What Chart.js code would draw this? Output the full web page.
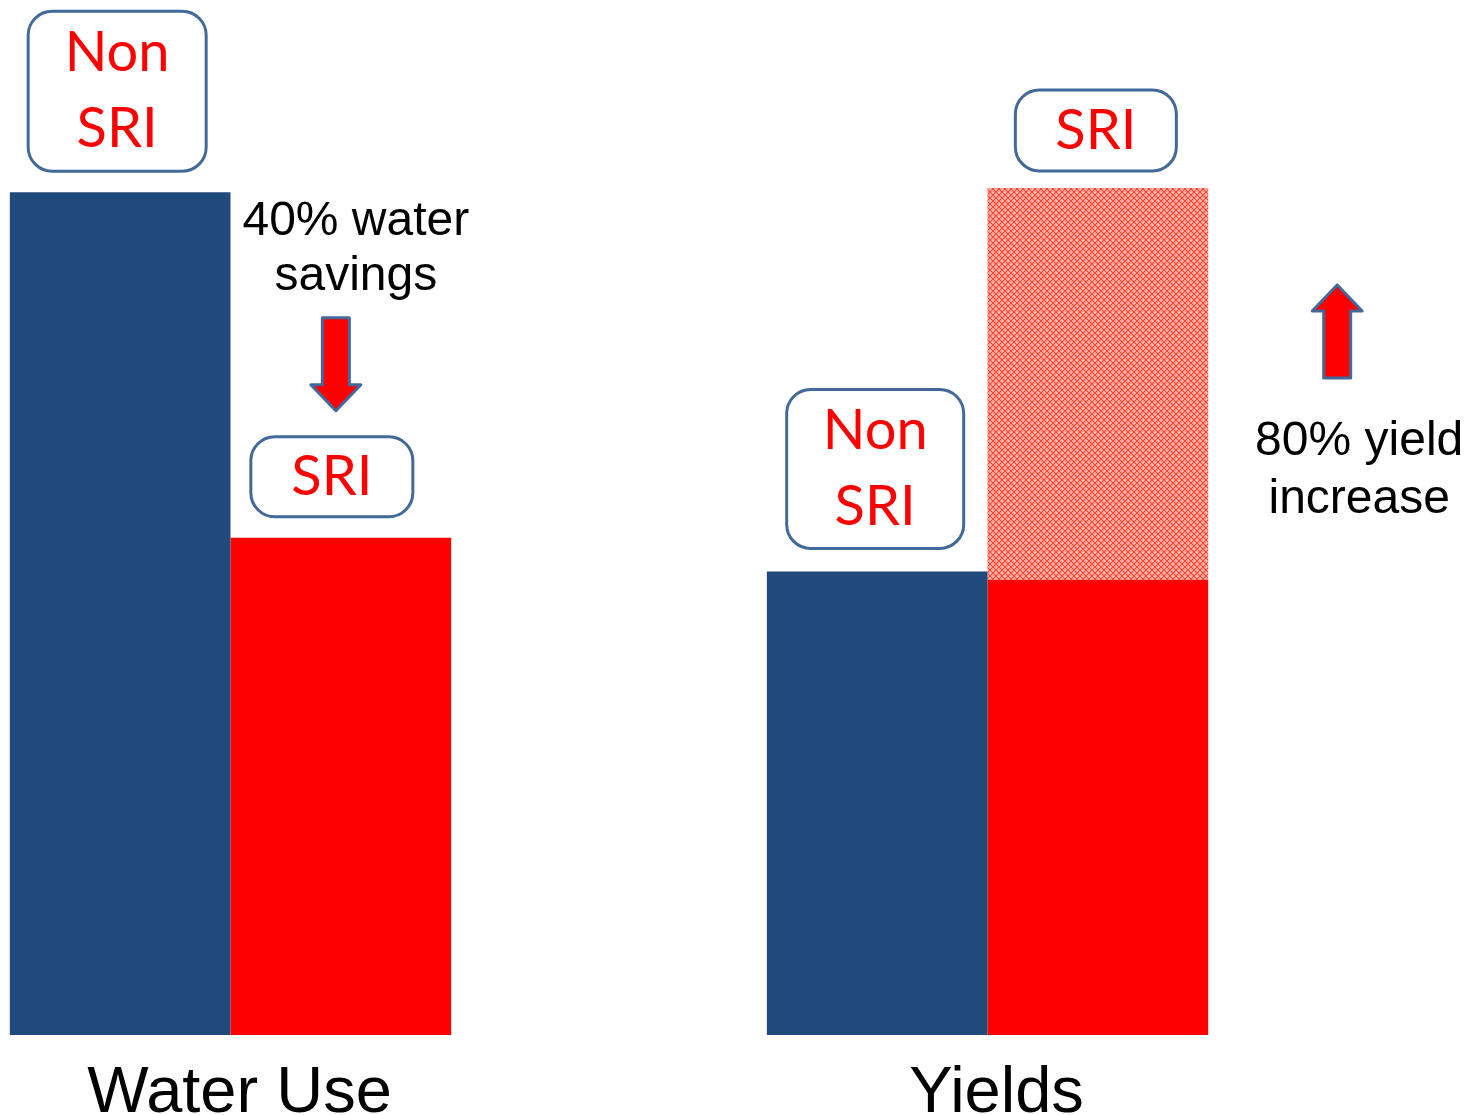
<!DOCTYPE html>
<html>
<head>
<meta charset="utf-8">
<script src="https://cdn.jsdelivr.net/npm/chart.js@4.4.1/dist/chart.umd.min.js"></script>
<style>
  html, body { margin: 0; padding: 0; background: #fff; }
  #wrap { width: 1477px; height: 1115px; position: relative; }
</style>
</head>
<body>
<div id="wrap"><canvas id="myChart"></canvas></div>
<script>
// data
var categories = ['Water Use', 'Yields'];
var nonSri = [100, 55];      // Non SRI bars
var sri = [59, 54];          // SRI bars (solid)
var sriGain = [null, 46.5];  // extra yield on top of SRI (hatched)
var noteWater = ['40% water', 'savings'];
var noteYield = ['80% yield', 'increase'];

var blue = '#204a7b';
var red = '#ff0000';
var edge = '#41699a';

// crosshatch fill for the yield gain
function hatch() {
  var c = document.createElement('canvas');
  c.width = 6; c.height = 6;
  var g = c.getContext('2d');
  g.fillStyle = '#ff9a8f';
  g.fillRect(0, 0, 6, 6);
  g.strokeStyle = '#ff4434';
  g.lineWidth = 1;
  g.beginPath();
  g.moveTo(0, 0); g.lineTo(6, 6);
  g.moveTo(6, 0); g.lineTo(0, 6);
  g.stroke();
  g.fillStyle = '#ffe2dd';
  g.fillRect(2.5, 0, 1, 1);
  g.fillRect(0, 2.5, 1, 1);
  return g.createPattern(c, 'repeat');
}

function pts(arr) {
  return arr.map(function (v, i) { return { x: i, y: v }; });
}

function box(ctx, cx, bottom, w, h, lines) {
  var x = cx - w / 2, y = bottom - h, r = 24;
  ctx.save();
  ctx.beginPath();
  ctx.moveTo(x + r, y);
  ctx.arcTo(x + w, y, x + w, y + h, r);
  ctx.arcTo(x + w, y + h, x, y + h, r);
  ctx.arcTo(x, y + h, x, y, r);
  ctx.arcTo(x, y, x + w, y, r);
  ctx.closePath();
  ctx.fillStyle = '#fff';
  ctx.fill();
  ctx.lineWidth = 3;
  ctx.strokeStyle = edge;
  ctx.stroke();
  ctx.fillStyle = red;
  ctx.font = '56px Lato';
  ctx.textAlign = 'center';
  ctx.textBaseline = 'middle';
  var mid = y + h / 2;
  if (lines.length == 2) {
    ctx.fillText(lines[0], cx, mid - 38);
    ctx.fillText(lines[1], cx, mid + 38);
  } else {
    ctx.fillText(lines[0], cx, mid);
  }
  ctx.restore();
}

// block arrow pointing from tail to tip
function arrow(ctx, cx, tail, tip) {
  var dir = tip > tail ? 1 : -1;
  var sw = 13.5, hw = 25, hl = 26 * dir;
  ctx.save();
  ctx.beginPath();
  ctx.moveTo(cx - sw, tail);
  ctx.lineTo(cx + sw, tail);
  ctx.lineTo(cx + sw, tip - hl);
  ctx.lineTo(cx + hw, tip - hl);
  ctx.lineTo(cx, tip);
  ctx.lineTo(cx - hw, tip - hl);
  ctx.lineTo(cx - sw, tip - hl);
  ctx.closePath();
  ctx.fillStyle = red;
  ctx.fill();
  ctx.lineWidth = 3;
  ctx.lineJoin = 'round';
  ctx.strokeStyle = edge;
  ctx.stroke();
  ctx.restore();
}

var notes = {
  id: 'notes',
  afterDatasetsDraw: function (chart) {
    var ctx = chart.ctx;
    var non = chart.getDatasetMeta(0).data;
    var s = chart.getDatasetMeta(1).data;
    var gain = chart.getDatasetMeta(2).data;

    box(ctx, non[0].x - 3, non[0].y - 21, 178, 160, ['Non', 'SRI']);
    box(ctx, s[0].x - 9, s[0].y - 21, 162, 80, ['SRI']);
    box(ctx, non[1].x - 2, non[1].y - 23, 177, 159, ['Non', 'SRI']);
    box(ctx, gain[1].x - 2, gain[1].y - 17, 161, 81, ['SRI']);

    ctx.save();
    ctx.fillStyle = '#000';
    ctx.font = '48px "Liberation Sans"';
    ctx.textAlign = 'center';
    ctx.textBaseline = 'alphabetic';
    ctx.fillText(noteWater[0], s[0].x + 15, non[0].y + 43);
    ctx.fillText(noteWater[1], s[0].x + 15, non[0].y + 98);
    var gx = gain[1].x + gain[1].width / 2;
    ctx.fillText(noteYield[0], gx + 151, gain[1].y + 267);
    ctx.fillText(noteYield[1], gx + 151, gain[1].y + 325);
    ctx.restore();

    arrow(ctx, s[0].x - 5, s[0].y - 220, s[0].y - 127);
    arrow(ctx, gx + 129, gain[1].y + 190, gain[1].y + 97);
  }
};

var ctx = document.getElementById('myChart').getContext('2d');
var myChart = new Chart(ctx, {
  type: 'bar',
  data: {
    datasets: [
      { label: 'Non SRI', data: pts(nonSri), backgroundColor: blue, stack: 'a' },
      { label: 'SRI', data: pts(sri), backgroundColor: red, stack: 'b' },
      { label: 'SRI gain', data: pts(sriGain), backgroundColor: hatch(), stack: 'b' }
    ]
  },
  options: {
    responsive: true,
    maintainAspectRatio: false,
    animation: false,
    layout: { padding: 0 },
    datasets: {
      bar: { categoryPercentage: 0.583, barPercentage: 1, borderWidth: 0 }
    },
    plugins: { legend: { display: false }, tooltip: { enabled: false } },
    scales: {
      x: {
        type: 'linear',
        offset: false,
        min: -0.3045,
        max: 1.6466,
        bounds: 'data',
        grid: { display: false },
        border: { display: false },
        afterBuildTicks: function (scale) {
          scale.ticks = categories.map(function (c, i) { return { value: i }; });
        },
        afterFit: function (scale) { scale.height = 80; },
        ticks: {
          autoSkip: false,
          maxRotation: 0,
          padding: 19,
          labelOffset: 9,
          color: '#000',
          font: { family: 'Liberation Sans', size: 65, lineHeight: 1 },
          callback: function (v) { return categories[v] || ''; }
        }
      },
      y: {
        display: false,
        stacked: true,
        min: 0,
        max: 122.8
      }
    }
  },
  plugins: [notes]
});
</script>
</body>
</html>
